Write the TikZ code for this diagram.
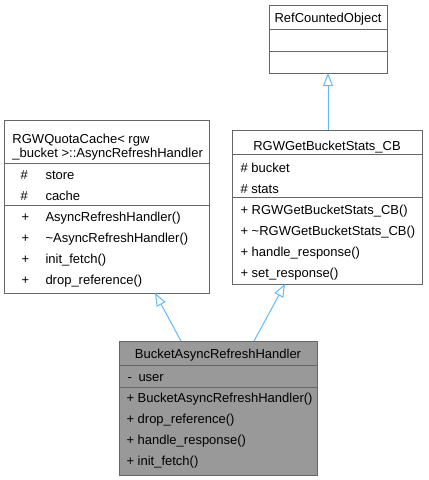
\documentclass[tikz,border=0pt]{standalone}
\usepackage{fontspec}
\setmainfont{Liberation Sans}
\usetikzlibrary{arrows.meta}
\definecolor{edgegray}{HTML}{666666}
\definecolor{inheritblue}{HTML}{63B8FF}
\definecolor{focusfill}{HTML}{999999}
\begin{document}
\begin{tikzpicture}[x=1pt, y=-1pt, line width=1pt,
  cls/.style={draw=edgegray, fill=white, anchor=north west, inner sep=0pt, outer sep=0pt},
  focus/.style={cls, fill=focusfill},
  txt/.style={anchor=base west, inner sep=0pt, font=\fontsize{13}{15}\selectfont},
  ctxt/.style={anchor=base, inner sep=0pt, font=\fontsize{13}{15}\selectfont},
  sep/.style={draw=edgegray},
  gen/.style={draw=inheritblue, -{Triangle[open, length=13pt, width=10pt]}}]
\useasboundingbox (0,0) rectangle (429,480);

% RefCountedObject
\node[cls, minimum width=118pt, minimum height=68pt] (rco) at (269,5) {};
\draw[sep] (rco.west |- 0,29) -- (rco.east |- 0,29);
\draw[sep] (rco.west |- 0,51) -- (rco.east |- 0,51);
\node[ctxt] (rcoT) at (328,22) {RefCountedObject};

% RGWQuotaCache<rgw_bucket>::AsyncRefreshHandler
\node[cls, minimum width=205pt, minimum height=173pt] (quota) at (4,120) {};
\draw[sep] (quota.west |- 0,163) -- (quota.east |- 0,163);
\draw[sep] (quota.west |- 0,205) -- (quota.east |- 0,205);
\node[txt] (qT1) at (12,143) {RGWQuotaCache< rgw};
\node[txt] (qT2) at (12,157) {\_bucket >::AsyncRefreshHandler};
\node[txt] (qa1s) at (20,179) {\#};
\node[txt] (qa1) at (45,179) {store};
\node[txt] (qa2s) at (20,200) {\#};
\node[txt] (qa2) at (45,200) {cache};
\node[txt] (qm1s) at (21,221) {+};
\node[txt] (qm1) at (45,221) {AsyncRefreshHandler()};
\node[txt] (qm2s) at (21,242) {+};
\node[txt] (qm2) at (45,242) {\textasciitilde AsyncRefreshHandler()};
\node[txt] (qm3s) at (21,263) {+};
\node[txt] (qm3) at (45,263) {init\_fetch()};
\node[txt] (qm4s) at (21,284) {+};
\node[txt] (qm4) at (45,284) {drop\_reference()};

% RGWGetBucketStats_CB
\node[cls, minimum width=190pt, minimum height=154pt] (cb) at (232,130) {};
\draw[sep] (cb.west |- 0,154) -- (cb.east |- 0,154);
\draw[sep] (cb.west |- 0,197) -- (cb.east |- 0,197);
\node[ctxt] (cbT) at (327,150) {RGWGetBucketStats\_CB};
\node[txt] (ca1) at (240,172) {\# bucket};
\node[txt] (ca2) at (240,193) {\# stats};
\node[txt] (cm1) at (240,214) {+ RGWGetBucketStats\_CB()};
\node[txt] (cm2) at (240,235) {+ \textasciitilde RGWGetBucketStats\_CB()};
\node[txt] (cm3) at (240,256) {+ handle\_response()};
\node[txt] (cm4) at (240,277) {+ set\_response()};

% BucketAsyncRefreshHandler
\node[focus, minimum width=198pt, minimum height=134pt] (bar) at (119,341) {};
\draw[sep] (bar.west |- 0,365) -- (bar.east |- 0,365);
\draw[sep] (bar.west |- 0,387) -- (bar.east |- 0,387);
\node[ctxt] (barT) at (218,358) {BucketAsyncRefreshHandler};
\node[txt] (ba1s) at (127,381) {-};
\node[txt] (ba1) at (138,381) {user};
\node[txt] (bm1) at (126,402) {+ BucketAsyncRefreshHandler()};
\node[txt] (bm2) at (126,423) {+ drop\_reference()};
\node[txt] (bm3) at (126,444) {+ handle\_response()};
\node[txt] (bm4) at (126,465) {+ init\_fetch()};

% inheritance
\draw[gen] (rco.south |- cb.north) -- (rco.south);
\draw[gen] (bar.north -| 181,0) -- (quota.south -| 155,0);
\draw[gen] (bar.north -| 254,0) -- (cb.south -| 285,0);
\end{tikzpicture}
\end{document}
